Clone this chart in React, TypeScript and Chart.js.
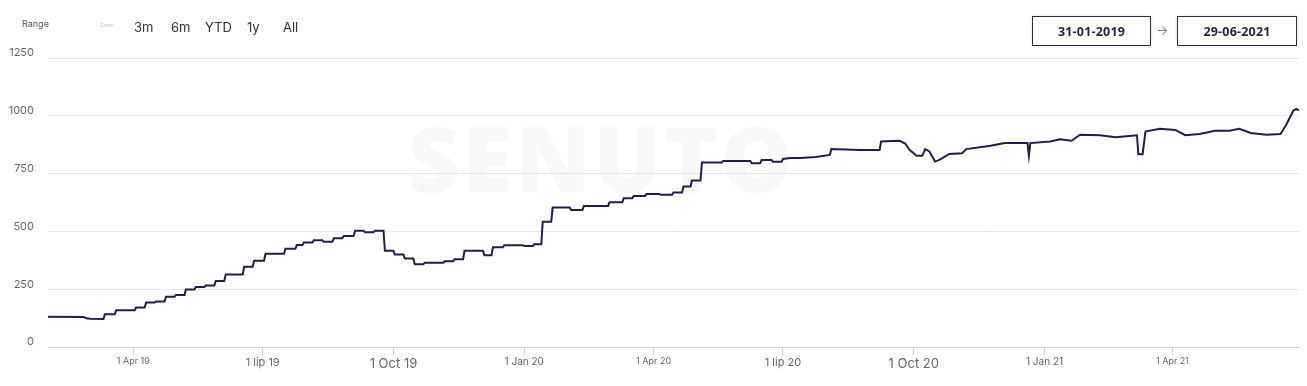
import React, { useEffect, useRef } from "react";
import { Chart, registerables } from "chart.js";

Chart.register(...registerables);

// Series: daily traffic, given as day offsets from startDate and their values
const startDate = "2019-01-31";
const endDate = "2021-06-29";
const dayIndex = [
  0, 25, 27, 30, 39, 40, 47, 48, 61, 62, 68, 69, 75, 76, 82, 83, 89, 90, 96, 97,
  103, 104, 110, 111, 117, 118, 124, 125, 137, 138, 144, 145, 152, 153, 166, 167, 174, 175, 179, 180,
  186, 187, 193, 194, 200, 201, 207, 208, 215, 216, 222, 223, 229, 230, 236, 237, 243, 244, 250, 251,
  257, 258, 264, 265, 278, 279, 285, 286, 292, 293, 306, 307, 312, 313, 320, 321, 334, 335, 341, 342,
  347, 348, 354, 355, 367, 368, 376, 377, 394, 395, 404, 405, 411, 412, 420, 421, 430, 431, 439, 440,
  446, 447, 452, 453, 459, 460, 474, 475, 494, 495, 501, 502, 509, 510, 516, 517, 522, 529, 540, 550,
  551, 571, 585, 586, 599, 603, 606, 611, 615, 617, 620, 624, 627, 634, 643, 646, 663, 673, 689, 690,
  691, 705, 712, 720, 726, 740, 751, 766, 767, 770, 772, 782, 793, 800, 810, 821, 831, 838, 846, 857,
  867, 871, 876, 878, 880,
];
const traffic = [
  131, 130, 124, 122, 121, 142, 142, 159, 159, 171, 171, 192, 192, 197, 197, 217, 217, 225, 225, 249,
  249, 260, 260, 266, 266, 285, 285, 314, 314, 347, 347, 373, 373, 403, 403, 425, 425, 441, 441, 452,
  452, 462, 462, 455, 455, 470, 470, 480, 480, 503, 503, 496, 496, 503, 503, 416, 416, 400, 400, 383,
  383, 358, 358, 364, 364, 371, 371, 380, 380, 416, 416, 397, 397, 431, 431, 440, 440, 437, 437, 444,
  444, 542, 542, 603, 603, 593, 593, 610, 610, 626, 626, 643, 643, 653, 653, 662, 662, 658, 658, 668,
  668, 694, 694, 720, 720, 798, 798, 805, 805, 795, 795, 809, 809, 801, 801, 813, 817, 818, 822, 831,
  856, 852, 852, 889, 892, 880, 853, 827, 827, 856, 846, 802, 809, 835, 838, 856, 870, 882, 882, 827,
  882, 889, 899, 892, 918, 916, 907, 916, 834, 834, 932, 944, 939, 916, 921, 935, 935, 944, 926, 918,
  921, 961, 1022, 1030, 1023,
];

// X axis ticks (day offsets from startDate) and their labels
const tickDays = [60, 151, 243, 335, 426, 517, 609, 701, 791];
const tickLabels = ["1 Apr 19", "1 lip 19", "1 Oct 19", "1 Jan 20", "1 Apr 20", "1 lip 20", "1 Oct 20", "1 Jan 21", "1 Apr 21"];
const tickFontSizes = [9, 11, 13, 10, 9, 11, 13, 10, 9];

// Y axis
const yMax = 1250;
const yStep = 250;

// Header
const rangeButtons = ["3m", "6m", "YTD", "1y", "All"];
const rangeFrom = "31-01-2019";
const rangeTo = "29-06-2021";

const totalDays = Math.round((Date.parse(endDate) - Date.parse(startDate)) / 86400000);

export default function App() {
  const canvasRef = useRef<HTMLCanvasElement | null>(null);

  useEffect(() => {
    document.body.style.margin = "0";
    const canvas = canvasRef.current;
    if (!canvas) return;
    const chart = new Chart(canvas, {
      type: "line",
      data: {
        datasets: [
          {
            data: dayIndex.map((d, i) => ({ x: d, y: traffic[i] })),
            borderColor: "#1e2048",
            borderWidth: 2,
            pointRadius: 0,
            tension: 0,
            fill: false,
          },
        ],
      },
      options: {
        animation: false,
        responsive: false,
        devicePixelRatio: 1,
        layout: { padding: { top: 58, right: 8, left: 0, bottom: 0 } },
        plugins: { legend: { display: false }, tooltip: { enabled: false } },
        scales: {
          x: {
            type: "linear",
            min: 0,
            max: totalDays,
            afterBuildTicks: (scale: any) => {
              scale.ticks = tickDays.map((v) => ({ value: v }));
            },
            afterFit: (scale: any) => {
              scale.height = 39;
            },
            grid: {
              drawOnChartArea: false,
              drawTicks: true,
              tickLength: 8,
              color: "#ccd6eb",
            },
            border: { display: true, color: "#ccd6eb" },
            ticks: {
              autoSkip: false,
              maxRotation: 0,
              padding: 1,
              color: "#666666",
              font: (ctx: any) => ({
                family: "Inter",
                size: tickFontSizes[ctx.index] ?? 10,
              }),
              callback: (_v: any, i: number) => tickLabels[i],
            },
          },
          y: {
            min: 0,
            max: yMax,
            afterFit: (scale: any) => {
              scale.width = 48;
            },
            grid: { color: "#e6e6e6", drawTicks: false },
            border: { display: false },
            ticks: {
              stepSize: yStep,
              padding: 14,
              labelOffset: -5,
              color: "#666666",
              font: { family: "Inter", size: 11 },
              callback: (v: any) => String(v),
            },
          },
        },
      },
    });
    return () => chart.destroy();
  }, []);

  const btnLeft = [134, 171, 205, 247, 283];

  return (
    <div style={{ position: "relative", width: 1307, height: 386, background: "#fff", overflow: "hidden", fontFamily: "Inter" }}>
      <div
        style={{
          position: "absolute",
          left: 408,
          top: 112,
          fontFamily: "'Open Sans', sans-serif",
          fontWeight: 800,
          fontSize: 90,
          letterSpacing: 3,
          color: "#f8f8f9",
          lineHeight: 1,
        }}
      >
        SENUTO
      </div>
      <canvas ref={canvasRef} width={1307} height={386} style={{ position: "absolute", left: 0, top: 0 }} />
      <div style={{ position: "absolute", left: 22, top: 18, fontSize: 9, color: "#555" }}>Range</div>
      <div style={{ position: "absolute", left: 100, top: 22, fontSize: 5, color: "#bbb" }}>Zoom</div>
      {rangeButtons.map((b, i) => (
        <div key={b} style={{ position: "absolute", left: btnLeft[i], top: 19, fontSize: 13, color: "#333" }}>
          {b}
        </div>
      ))}
      <div
        style={{
          position: "absolute",
          left: 1032,
          top: 16,
          width: 117,
          height: 28,
          border: "1px solid #2a2d45",
          boxShadow: "0 0 3px rgba(0,0,0,0.12)",
          display: "flex",
          alignItems: "center",
          justifyContent: "center",
          fontFamily: "'Open Sans', sans-serif",
          fontWeight: 700,
          fontSize: 12.5,
          letterSpacing: 0.2,
          color: "#1f2442",
        }}
      >
        {rangeFrom}
      </div>
      <div style={{ position: "absolute", left: 1156, top: 22, fontSize: 13, color: "#888" }}>→</div>
      <div
        style={{
          position: "absolute",
          left: 1177,
          top: 16,
          width: 118,
          height: 28,
          border: "1px solid #2a2d45",
          boxShadow: "0 0 3px rgba(0,0,0,0.12)",
          display: "flex",
          alignItems: "center",
          justifyContent: "center",
          fontFamily: "'Open Sans', sans-serif",
          fontWeight: 700,
          fontSize: 12.5,
          letterSpacing: 0.2,
          color: "#1f2442",
        }}
      >
        {rangeTo}
      </div>
    </div>
  );
}
